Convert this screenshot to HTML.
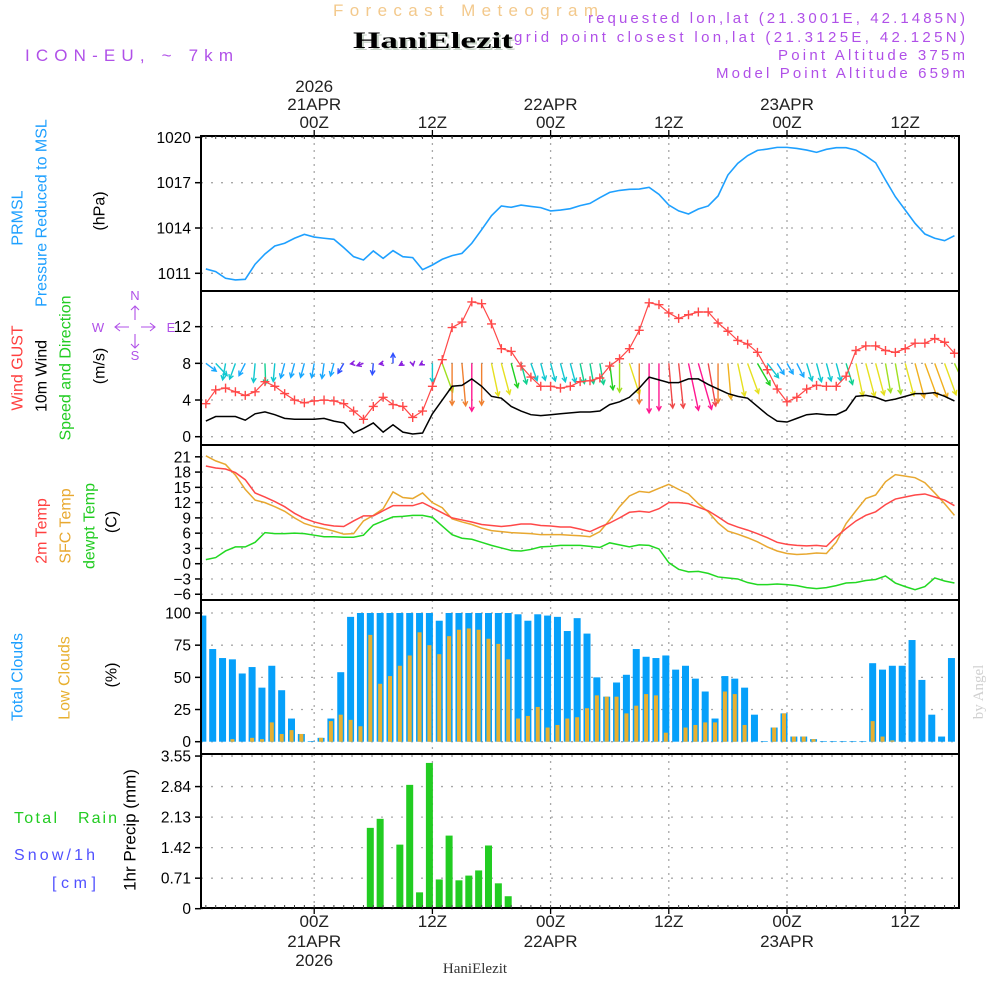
<!DOCTYPE html>
<html><head><meta charset="utf-8"><title>Forecast Meteogram HaniElezit</title>
<style>
html,body{margin:0;padding:0;background:#fff;}
svg{display:block;font-family:"Liberation Sans",sans-serif;}
</style></head>
<body>
<svg id="chart" width="1000" height="1000" viewBox="0 0 1000 1000" xmlns="http://www.w3.org/2000/svg">
<rect x="0" y="0" width="1000" height="1000" fill="#fff"/>
<text x="333" y="16" font-size="17" fill="#f3c98c" textLength="265" lengthAdjust="spacing">Forecast Meteogram</text>
<text x="355" y="50" font-size="23" font-weight="bold" fill="#c8d4c8" font-family="Liberation Serif,serif" textLength="160" lengthAdjust="spacingAndGlyphs">HaniElezit</text>
<text x="353" y="48" font-size="23" font-weight="bold" fill="#000" font-family="Liberation Serif,serif" textLength="160" lengthAdjust="spacingAndGlyphs">HaniElezit</text>
<text x="25" y="61" font-size="17" fill="#b050e8" textLength="208" lengthAdjust="spacing">ICON-EU, ~ 7km</text>
<text x="588" y="23" font-size="15" fill="#b050e8" textLength="377" lengthAdjust="spacing">requested lon,lat (21.3001E, 42.1485N)</text>
<text x="514" y="42" font-size="15" fill="#b050e8" textLength="451" lengthAdjust="spacing">grid point closest lon,lat (21.3125E, 42.125N)</text>
<text x="778" y="60" font-size="15" fill="#b050e8" textLength="187" lengthAdjust="spacing">Point Altitude 375m</text>
<text x="716" y="78" font-size="15" fill="#b050e8" textLength="249" lengthAdjust="spacing">Model Point Altitude 659m</text>
<text x="475" y="973" font-size="15" fill="#333" font-family="Liberation Serif,serif" text-anchor="middle">HaniElezit</text>
<text transform="translate(983,692) rotate(-90)" font-size="15" fill="#d0d0d0" font-family="Liberation Serif,serif" text-anchor="middle">by Angel</text>
<g id="layer"></g>
</svg>
<script>
// ---------- data ----------
const hours = [];
for (let h = -11; h <= 65; h++) hours.push(h);
const pressure = [1011.29,1011.11,1010.67,1010.56,1010.60,1011.60,1012.28,1012.81,1012.99,1013.32,1013.58,1013.40,1013.32,1013.25,1012.70,1012.10,1011.88,1012.48,1011.99,1012.50,1012.10,1012.04,1011.24,1011.55,1011.93,1012.17,1012.32,1012.99,1013.89,1014.82,1015.46,1015.37,1015.52,1015.43,1015.35,1015.13,1015.19,1015.28,1015.48,1015.63,1016.01,1016.36,1016.49,1016.56,1016.58,1016.69,1016.23,1015.52,1015.13,1014.93,1015.26,1015.46,1016.12,1017.51,1018.28,1018.79,1019.14,1019.23,1019.34,1019.34,1019.27,1019.16,1019.01,1019.21,1019.32,1019.32,1019.16,1018.77,1018.32,1017.18,1016.07,1015.19,1014.31,1013.60,1013.32,1013.16,1013.49];
const gust = [3.6,5.1,5.3,4.9,4.5,4.9,6.0,5.5,4.7,4.0,3.7,3.9,4.0,3.9,3.6,2.8,1.9,3.3,4.3,3.5,3.3,2.1,2.8,5.5,8.4,11.9,12.5,14.7,14.5,12.3,9.6,9.3,7.7,6.5,5.5,5.5,5.3,5.5,6.0,6.1,6.4,7.7,8.5,9.6,11.6,14.6,14.4,13.5,12.9,13.3,13.6,13.6,12.4,11.5,10.5,10.1,9.2,7.3,5.2,3.8,4.3,5.2,5.6,5.5,5.5,6.6,9.4,9.9,9.9,9.4,9.2,9.6,10.2,10.2,10.7,10.3,9.1];
const wind = [1.7,2.2,2.2,2.2,1.8,2.5,2.7,2.4,2.0,1.9,1.9,1.9,2.0,1.7,1.5,0.4,0.9,1.5,0.5,1.3,0.5,0.3,0.4,2.5,4.0,5.5,5.6,6.3,5.5,4.4,4.2,3.3,2.8,2.4,2.3,2.4,2.5,2.6,2.7,2.7,2.8,3.5,3.8,4.3,5.3,6.5,6.2,5.9,5.9,6.3,6.3,5.7,5.2,4.7,4.4,4.2,3.3,2.4,1.7,1.6,2.0,2.4,2.5,2.4,2.4,2.9,4.4,4.5,4.3,3.9,4.1,4.4,4.7,4.7,4.8,4.4,3.9];
const windDir = [307,317,10,20,27,5,358,5,15,15,15,10,8,15,30,80,70,5,80,180,60,350,60,0,340,0,355,0,0,348,345,345,345,340,345,345,345,345,348,350,350,353,0,342,0,0,0,355,354,348,344,350,0,355,348,340,330,322,328,330,333,343,345,345,345,343,348,345,345,350,350,345,345,340,340,340,335];
const temp2m = [19.2,18.8,18.6,17.9,16.5,13.9,13.1,12.2,11.2,9.9,8.9,8.2,7.7,7.4,7.3,8.4,9.4,9.4,10.4,11.4,11.4,11.4,12.0,11.0,10.0,9.0,8.6,8.2,7.7,7.5,7.3,7.5,7.8,7.8,7.5,7.4,7.2,7.2,6.8,6.3,7.2,8.0,9.0,10.1,10.3,10.1,10.8,12.0,12.0,11.8,11.1,10.4,9.2,7.9,7.2,6.6,5.9,5.1,4.2,3.8,3.6,3.5,3.6,3.4,5.3,6.9,8.4,9.5,10.2,11.6,12.7,13.1,13.5,13.7,13.1,12.5,11.4];
const tempSfc = [21.2,20.2,19.5,17.4,14.6,12.5,12.0,11.2,10.3,9.0,7.9,7.3,6.9,6.4,5.8,5.9,8.4,9.5,10.8,14.1,13.0,12.8,13.9,12.0,11.0,8.8,8.2,7.7,7.0,6.5,6.3,6.1,6.0,5.9,5.7,5.7,5.7,5.6,5.5,5.3,6.3,8.6,11.2,13.3,14.2,14.0,14.8,15.6,14.6,13.7,11.8,10.2,8.0,6.4,5.8,5.1,4.3,3.3,2.5,2.0,1.8,1.9,2.1,2.0,4.2,7.9,10.4,12.8,13.5,16.1,17.5,17.2,16.9,15.9,13.9,11.8,9.5];
const dewpt = [0.8,1.2,2.5,3.3,3.3,4.2,6.1,5.9,5.9,6.0,5.9,5.6,5.3,5.3,5.2,5.2,5.6,7.6,8.4,9.2,9.3,9.5,9.5,9.1,7.4,5.7,5.0,4.8,4.2,3.6,3.1,2.6,2.5,2.8,3.3,3.4,3.6,3.6,3.6,3.4,3.2,4.1,3.7,3.3,3.7,3.6,2.9,0.2,-1.1,-1.6,-1.5,-1.9,-2.6,-2.8,-3.0,-3.7,-4.1,-4.1,-4.0,-4.1,-4.3,-4.7,-4.9,-4.7,-4.3,-3.8,-3.7,-3.3,-3.1,-2.4,-3.8,-4.5,-5.1,-4.5,-2.8,-3.4,-3.8];
const totalCloud = [98,72,65,64,53,58,42,59,40,18,6,0.5,3,18,54,97,100,100,100,100,100,100,100,100,94,100,100,100,100,100,100,100,99,94,99,98,97,86,96,84,50,35,46,52,72,66,65,67,56,59,49,39,18,51,49,42,21,0.5,11,22,4,4,2,0.5,0.5,0.5,0.5,0.5,61,56,59,59,79,48,21,4,65];
const lowCloud = [0,0,0,2,0,3,2,15,6,9,6,0,3,16,21,17,12,83,45,51,59,67,85,75,68,82,87,88,87,80,76,64,18,20,27,11,13,18,19,26,36,35,35,22,28,37,36,7,0,11,13,15,15,39,37,13,0,0,11,22,4,4,2,0,0,0,0,0,16,4,1,0,0,0,0,0,0];
const precip = [0,0,0,0,0,0,0,0,0,0,0,0,0,0,0,0,0,1.88,2.09,0,1.49,2.88,0.38,3.39,0.68,1.70,0.66,0.77,0.89,1.47,0.59,0.29,0.03,0,0,0,0,0,0,0,0,0,0,0,0,0,0,0,0,0,0,0,0,0,0,0,0,0,0,0,0,0,0,0,0,0,0,0,0,0,0,0,0,0,0,0,0];
const pressTicks = [1011,1014,1017,1020];
const windTicks = [0,4,8,12];
const tempTicks = [21,18,15,12,9,6,3,0,-3,-6];
const cloudTicks = [0,25,50,75,100];
const precipTicks = [0,0.71,1.42,2.13,2.84,3.55];
const timeTicks = [0,12,24,36,48,60];
const timeTickLabels = ["00Z","12Z","00Z","12Z","00Z","12Z"];
const dateLabels = ["21APR","","22APR","","23APR",""];

// ---------- axes ----------
const X0 = 201, X1 = 959;
const xT = t => 314.2 + t * 9.85;
const yP = p => 273.3 - (p - 1011) * 15.1;
const yW = v => 436.7 - v * 9.17;
const yTm = c => 563.7 - c * 5.09;
const yC = c => 741.7 - c * 1.287;
const yR = r => 908.7 - r * 43.0;
const panels = [
  {name:'pressure-panel', top:136, bot:291},
  {name:'wind-panel', top:291, bot:445},
  {name:'temperature-panel', top:445, bot:600},
  {name:'cloud-panel', top:600, bot:754},
  {name:'precip-panel', top:754, bot:908}
];
const NS = 'http://www.w3.org/2000/svg';
const layer = document.getElementById('layer');
function mk(tag, attrs, parent) {
  const el = document.createElementNS(NS, tag);
  for (const k in attrs) el.setAttribute(k, attrs[k]);
  (parent || layer).appendChild(el);
  return el;
}
function txt(str, attrs, parent) { const e = mk('text', attrs, parent); e.textContent = str; return e; }
const defs = mk('defs', {});
panels.forEach((p, i) => {
  const cp = mk('clipPath', {id: 'clip' + i}, defs);
  mk('rect', {x: X0, y: p.top, width: X1 - X0, height: p.bot - p.top}, cp);
});

// gridlines
panels.forEach((p, i) => {
  timeTicks.forEach(t => {
    const g = mk('line', {x1: xT(t), x2: xT(t), y1: p.top, y2: p.bot, stroke: '#a8a8a8', 'stroke-width': 1.3, 'stroke-dasharray': '2,5'});
    
    
  });
});
function hGrid(ticks, yf, top, bot, name, fmt) {
  ticks.forEach(v => {
    const y = yf(v);
    const g = mk('line', {x1: X0, x2: X1, y1: y, y2: y, stroke: '#a8a8a8', 'stroke-width': 1.3, 'stroke-dasharray': '2,8'});
    
    
    const tk = mk('line', {x1: X0 - 6, x2: X0, y1: y, y2: y, stroke: '#000', 'stroke-width': 1.5});
    
    
    const l = txt(fmt ? fmt(v) : String(v).replace('-', '\u2212'), {x: X0 - 10, y: y + 5.5, 'font-size': 15.5, 'text-anchor': 'end', fill: '#000'});
    
    
  });
}
hGrid(pressTicks, yP, 136, 291, 'pressure-axis');
hGrid(windTicks, yW, 291, 445, 'wind-axis');
hGrid(tempTicks, yTm, 445, 600, 'temp-axis');
hGrid(cloudTicks, yC, 600, 754, 'cloud-axis');
hGrid(precipTicks, yR, 754, 908, 'precip-axis', v => v === 0 ? '0' : v.toFixed(2));

// ---------- pressure ----------
const g1 = mk('g', {'clip-path': 'url(#clip0)'});
const pl = mk('polyline', {points: hours.map((t, i) => xT(t) + ',' + yP(pressure[i])).join(' '), fill: 'none', stroke: '#1ea0ff', 'stroke-width': 1.6}, g1);



// ---------- wind ----------
const g2 = mk('g', {'clip-path': 'url(#clip1)'});
function speedColor(v) {
  const stops = [[0,'#8a1ee0'],[0.8,'#8a1ee0'],[1.2,'#3050ff'],[1.6,'#18a8ff'],[2.2,'#10c8d0'],[2.7,'#10d090'],[3.2,'#20d020'],[3.7,'#a0e020'],[4.2,'#e6e020'],[4.7,'#f0b020'],[5.2,'#f08030'],[5.7,'#f04848'],[6.2,'#ff1890']];
  let c = stops[0][1];
  for (const s of stops) if (v >= s[0]) c = s[1];
  return c;
}
const arrowBaseY = yW(8);
hours.forEach((t, i) => {
  const L = wind[i] * 7.6;
  const to = (windDir[i] + 180) * Math.PI / 180;
  const dx = Math.sin(to) * L, dy = -Math.cos(to) * L;
  const x0 = xT(t), y0 = arrowBaseY, x1 = x0 + dx, y1 = y0 + dy;
  const ang = Math.atan2(dy, dx);
  const hl = 5;
  const col = speedColor(wind[i]);
  const a = mk('path', {d: `M${x0},${y0}L${x1},${y1}M${x1 - hl * Math.cos(ang - 0.5)},${y1 - hl * Math.sin(ang - 0.5)}L${x1},${y1}L${x1 - hl * Math.cos(ang + 0.5)},${y1 - hl * Math.sin(ang + 0.5)}`, fill: 'none', stroke: col, 'stroke-width': 1.4}, g2);
  
  
});
const wl = mk('polyline', {points: hours.map((t, i) => xT(t) + ',' + yW(wind[i])).join(' '), fill: 'none', stroke: '#000', 'stroke-width': 1.5}, g2);


const gl = mk('polyline', {points: hours.map((t, i) => xT(t) + ',' + yW(gust[i])).join(' '), fill: 'none', stroke: '#ff4848', 'stroke-width': 1.2}, g2);


hours.forEach((t, i) => {
  const x = xT(t), y = yW(gust[i]);
  const m = mk('path', {d: `M${x - 4.5},${y}H${x + 4.5}M${x},${y - 4.5}V${y + 4.5}`, stroke: '#ff4848', 'stroke-width': 1.4}, g2);
  
  
});

// ---------- temperature ----------
const g3 = mk('g', {'clip-path': 'url(#clip2)'});
[[tempSfc, '#e8a830', 'sfc-temp-line'], [temp2m, '#ff4848', 'temp-2m-line'], [dewpt, '#22d822', 'dewpoint-line']].forEach(s => {
  const l = mk('polyline', {points: hours.map((t, i) => xT(t) + ',' + yTm(s[0][i])).join(' '), fill: 'none', stroke: s[1], 'stroke-width': 1.5}, g3);
  
  
});

// ---------- clouds ----------
const g4 = mk('g', {'clip-path': 'url(#clip3)'});
hours.forEach((t, i) => {
  const cx = xT(t) - 3;
  const b = mk('rect', {x: cx - 3.5, y: yC(totalCloud[i]), width: 7, height: yC(0) - yC(totalCloud[i]), fill: '#06a0fa'}, g4);
  
  
  if (lowCloud[i] > 0) {
    const lb = mk('rect', {x: cx - 2, y: yC(lowCloud[i]), width: 4, height: yC(0) - yC(lowCloud[i]), fill: '#e8b030'}, g4);
    
    
  }
});

// ---------- precip ----------
const g5 = mk('g', {'clip-path': 'url(#clip4)'});
hours.forEach((t, i) => {
  if (precip[i] <= 0) return;
  const cx = xT(t) - 3;
  const b = mk('rect', {x: cx - 3.5, y: yR(precip[i]), width: 7, height: yR(0) - yR(precip[i]), fill: '#22cc22'}, g5);
  
  
});

// ---------- frames ----------
panels.forEach(p => {
  const r = mk('rect', {x: X0, y: p.top, width: X1 - X0, height: p.bot - p.top, fill: 'none', stroke: '#000', 'stroke-width': 2});
  
  
});
hours.forEach(t => {
  const x = xT(t);
  const a = mk('line', {x1: x, x2: x, y1: 136, y2: 139, stroke: '#444', 'stroke-width': 1});
  
  
  const b = mk('line', {x1: x, x2: x, y1: 905, y2: 908, stroke: '#444', 'stroke-width': 1});
  
  
});
timeTicks.forEach((t, i) => {
  const x = xT(t);
  const a = mk('line', {x1: x, x2: x, y1: 130, y2: 136, stroke: '#000', 'stroke-width': 1.3});
  
  
  const b = mk('line', {x1: x, x2: x, y1: 908, y2: 914, stroke: '#000', 'stroke-width': 1.3});
  
  
  const l1 = txt(timeTickLabels[i], {x: x, y: 128, 'font-size': 17, 'text-anchor': 'middle', fill: '#222'});
  
  
  const l2 = txt(timeTickLabels[i], {x: x, y: 927, 'font-size': 17, 'text-anchor': 'middle', fill: '#222'});
  
  
  if (dateLabels[i]) {
    const d1 = txt(dateLabels[i], {x: x, y: 110, 'font-size': 17, 'text-anchor': 'middle', fill: '#222'});
    
    
    const d2 = txt(dateLabels[i], {x: x, y: 947, 'font-size': 17, 'text-anchor': 'middle', fill: '#222'});
    
    
  }
});
const y1 = txt('2026', {x: xT(0), y: 92, 'font-size': 17, 'text-anchor': 'middle', fill: '#222'});


const y2 = txt('2026', {x: xT(0), y: 966, 'font-size': 17, 'text-anchor': 'middle', fill: '#222'});



// ---------- side labels ----------
function vlab(str, x, y, col, name, size) {
  const e = txt(str, {transform: `translate(${x},${y}) rotate(-90)`, 'font-size': size || 16, 'text-anchor': 'middle', 'dominant-baseline': 'central', fill: col});
  
  
}
vlab('PRMSL', 18, 218, '#1ea0ff', 'prmsl-label');
vlab('Pressure Reduced to MSL', 42, 213, '#1ea0ff', 'pressure-title');
vlab('(hPa)', 100, 211, '#000', 'pressure-unit');
vlab('Wind GUST', 18, 368, '#ff4040', 'gust-title');
vlab('10m Wind', 42, 376, '#000', 'wind-title');
vlab('Speed and Direction', 66, 368, '#22cc22', 'wind-direction-title');
vlab('(m/s)', 100, 366, '#000', 'wind-unit');
vlab('2m Temp', 42, 531, '#ff4040', 'temp-2m-title');
vlab('SFC Temp', 66, 526, '#e8a830', 'sfc-temp-title');
vlab('dewpt Temp', 90, 526, '#22cc22', 'dewpoint-title');
vlab('(C)', 112, 522, '#000', 'temp-unit');
vlab('Total Clouds', 18, 677, '#1ea0ff', 'total-clouds-title');
vlab('Low Clouds', 65, 678, '#e8b030', 'low-clouds-title');
vlab('(%)', 112, 675, '#000', 'cloud-unit');
vlab('1hr Precip (mm)', 130, 830, '#000', 'precip-title', 17);
const tr1 = txt('Total', {x: 14, y: 823, 'font-size': 16, fill: '#22cc22', textLength: 43, lengthAdjust: 'spacing'});


const tr2 = txt('Rain', {x: 78, y: 823, 'font-size': 16, fill: '#22cc22', textLength: 39, lengthAdjust: 'spacing'});


const sn = txt('Snow/1h', {x: 14, y: 860, 'font-size': 16, fill: '#5050ff', textLength: 81, lengthAdjust: 'spacing'});


const cm = txt('[cm]', {x: 52, y: 888, 'font-size': 16, fill: '#5050ff', textLength: 44, lengthAdjust: 'spacing'});


// compass
const comp = mk('g', {fill: '#b050e8', 'font-size': 13, 'text-anchor': 'middle'});


txt('N', {x: 135, y: 300}, comp);
txt('W', {x: 98, y: 332}, comp);
txt('E', {x: 171, y: 332}, comp);
txt('S', {x: 135, y: 360}, comp);
mk('path', {d: 'M115,327H129M141,327H155M135,306V320M135,334V348M120,323L115,327L120,331M150,323L155,327L150,331M131,310L135,306L139,310M131,344L135,348L139,344', stroke: '#b050e8', 'stroke-width': 1.1, fill: 'none'}, comp);
</script>
</body></html>
